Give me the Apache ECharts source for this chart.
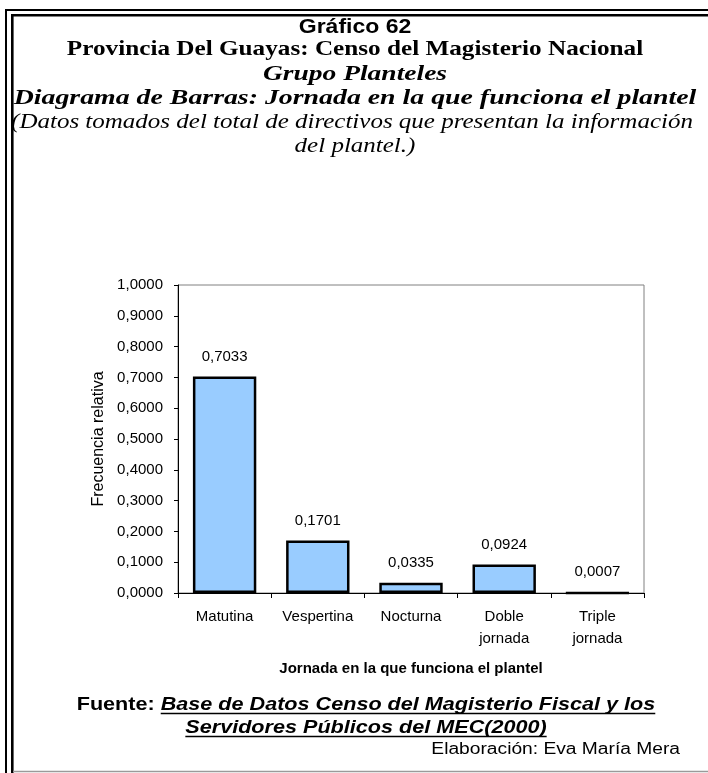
<!DOCTYPE html>
<html>
<head>
<meta charset="utf-8">
<script src="https://cdn.jsdelivr.net/npm/echarts@6/dist/echarts.min.js"></script>
<style>
html,body{margin:0;padding:0;background:#ffffff;}
#chart{width:708px;height:773px;}
</style>
</head>
<body>
<div id="chart"></div>
<script>
// ---- data ----
const categories = ['Matutina', 'Vespertina', 'Nocturna', 'Doble\njornada', 'Triple\njornada'];
const frecuenciaRelativa = [0.7033, 0.1701, 0.0335, 0.0924, 0.0007];
const valueLabels = ['0,7033', '0,1701', '0,0335', '0,0924', '0,0007'];
const yTickLabels = ['0,0000', '0,1000', '0,2000', '0,3000', '0,4000', '0,5000',
                     '0,6000', '0,7000', '0,8000', '0,9000', '1,0000'];
const headerLines = [
  'Gráfico 62',
  'Provincia Del Guayas: Censo del Magisterio Nacional',
  'Grupo Planteles',
  'Diagrama de Barras: Jornada en la que funciona el plantel',
  '(Datos tomados del total de directivos que presentan la información',
  'del plantel.)'
];
const fuenteLabel = 'Fuente: ';
const fuenteLines = ['Base de Datos Censo del Magisterio Fiscal y los', 'Servidores Públicos del MEC(2000)'];
const elaboracion = 'Elaboración: Eva María Mera';
const xAxisName = 'Jornada en la que funciona el plantel';
const yAxisName = 'Frecuencia relativa';

// ---- layout helpers ----
const SANS = '"Liberation Sans", Arial, sans-serif';
const SERIF = '"Liberation Serif", "Times New Roman", serif';
const S = 1.2; // horizontal stretch of the document text
const ctx = document.createElement('canvas').getContext('2d');
function measure(text, style, weight, size, family) {
  ctx.font = style + ' ' + weight + ' ' + size + 'px ' + family;
  return ctx.measureText(text).width;
}
function textEl(text, x, y, size, family, weight, fstyle, align, sx) {
  return {
    type: 'text', x: x, y: y, scaleX: sx || S, scaleY: 1, z: 10,
    style: {
      text: text, x: 0, y: 0, fill: '#000',
      fontSize: size, fontFamily: family, fontWeight: weight, fontStyle: fstyle,
      align: align || 'center', verticalAlign: 'middle',
      textAlign: align || 'center', textVerticalAlign: 'middle'
    }
  };
}
function hline(x1, x2, y, w, color) {
  return { type: 'line', z: 10, shape: { x1: x1, y1: y, x2: x2, y2: y }, style: { stroke: color, lineWidth: w } };
}
function vline(x, y1, y2, w, color) {
  return { type: 'line', z: 10, shape: { x1: x, y1: y1, x2: x, y2: y2 }, style: { stroke: color, lineWidth: w } };
}

const graphics = [];
// frame
graphics.push(vline(6, 9, 773, 2, '#000'));
graphics.push(hline(5, 708, 10, 2, '#000'));
graphics.push(vline(12.3, 14, 773, 2.6, '#000'));
graphics.push(hline(11, 708, 15.2, 2.6, '#000'));
graphics.push(hline(13, 708, 771.5, 1.5, '#9a9a9a'));

// header
const hx = 355;
graphics.push(textEl(headerLines[0], hx, 27.5, 20, SANS, 'bold', 'normal', 'center', 1.15));
graphics.push(textEl(headerLines[1], hx, 50, 21, SERIF, 'bold', 'normal'));
graphics.push(textEl(headerLines[2], hx, 74, 22, SERIF, 'bold', 'italic', 'center', 1.25));
graphics.push(textEl(headerLines[3], hx, 98.5, 22, SERIF, 'bold', 'italic', 'center', 1.265));
graphics.push(textEl(headerLines[4], hx - 3, 122.5, 21, SERIF, 'normal', 'italic', 'center', 1.19));
graphics.push(textEl(headerLines[5], hx, 146.5, 21, SERIF, 'normal', 'italic', 'center', 1.19));

// footer
const fx = 366, fSize = 18;
const wLab = measure(fuenteLabel, 'normal', 'bold', fSize, SANS) * S;
const wL1 = measure(fuenteLines[0], 'italic', 'bold', fSize, SANS) * S;
const wL2 = measure(fuenteLines[1], 'italic', 'bold', fSize, SANS) * S;
const start1 = fx - (wLab + wL1) / 2;
graphics.push(textEl(fuenteLabel, start1, 705, fSize, SANS, 'bold', 'normal', 'left'));
graphics.push(textEl(fuenteLines[0], start1 + wLab, 705, fSize, SANS, 'bold', 'italic', 'left'));
graphics.push(hline(start1 + wLab, start1 + wLab + wL1, 713.5, 1.5, '#000'));
graphics.push(textEl(fuenteLines[1], fx, 728, fSize, SANS, 'bold', 'italic'));
graphics.push(hline(fx - wL2 / 2, fx + wL2 / 2, 736.5, 1.5, '#000'));
graphics.push(textEl(elaboracion, 680, 750, 16, SANS, 'normal', 'normal', 'right'));

const chart = echarts.init(document.getElementById('chart'), null, { renderer: 'canvas' });
chart.setOption({
  backgroundColor: '#ffffff',
  animation: false,
  textStyle: { fontFamily: SANS, color: '#000' },
  grid: {
    left: 178, top: 285, width: 466, height: 308,
    show: true, borderColor: '#808080', borderWidth: 1, backgroundColor: 'transparent'
  },
  xAxis: {
    type: 'category',
    data: categories,
    name: xAxisName,
    nameLocation: 'middle',
    nameGap: 68,
    nameTextStyle: { fontFamily: SANS, fontSize: 15, fontWeight: 'bold', color: '#000' },
    axisLine: { lineStyle: { color: '#000', width: 1 } },
    axisTick: { show: true, alignWithLabel: false, length: 5, lineStyle: { color: '#000' } },
    axisLabel: { fontFamily: SANS, fontSize: 15, color: '#000', margin: 13, lineHeight: 22, interval: 0 },
    splitLine: { show: false }
  },
  yAxis: {
    type: 'value',
    min: 0, max: 1, interval: 0.1,
    name: yAxisName,
    nameLocation: 'middle',
    nameRotate: 90,
    nameGap: 71,
    nameTextStyle: { fontFamily: SANS, fontSize: 16, color: '#000' },
    axisLine: { show: true, lineStyle: { color: '#000', width: 1 } },
    axisTick: { show: true, length: 4, lineStyle: { color: '#000' } },
    axisLabel: {
      fontFamily: SANS, fontSize: 15, color: '#000', margin: 15,
      formatter: function (v, i) { return yTickLabels[i]; }
    },
    splitLine: { show: false }
  },
  series: [{
    type: 'bar',
    data: frecuenciaRelativa,
    barWidth: '68%',
    itemStyle: { color: '#99CCFF', borderColor: '#000', borderWidth: 2.5 },
    label: {
      show: true, position: 'top', distance: 12,
      fontFamily: SANS, fontSize: 15, color: '#000',
      formatter: function (p) { return valueLabels[p.dataIndex]; }
    }
  }],
  graphic: { elements: graphics }
});
</script>
</body>
</html>
